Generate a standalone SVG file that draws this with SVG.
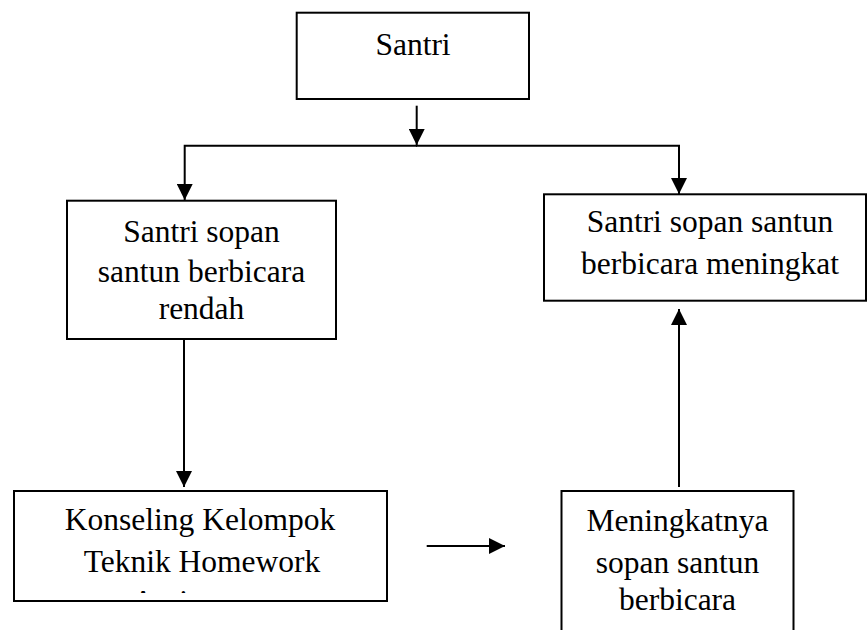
<svg xmlns="http://www.w3.org/2000/svg" width="868" height="630" viewBox="0 0 868 630">
<style>
.box{fill:#fff;stroke:#000;stroke-width:2}
.t{font-family:"Liberation Serif","Times New Roman",serif;font-size:31.5px;fill:#000;text-anchor:middle}
.c{fill:none;stroke:#000;stroke-width:2}
</style>
<defs>
<marker id="ah" markerUnits="userSpaceOnUse" markerWidth="16" markerHeight="16" refX="15" refY="7.5" orient="auto" viewBox="0 0 15 15">
<path d="M0,0 L15,7.5 L0,15 z" fill="#000"/>
</marker>
<clipPath id="clipK"><rect x="15" y="492" width="371" height="101"/></clipPath>
</defs>
<rect width="868" height="630" fill="#fff"/>
<g id="connectors">
<path class="c" d="M416.7,105.7 V145" marker-end="url(#ah)"/>
<path class="c" d="M417,145.7 H184.7 V200" marker-end="url(#ah)"/>
<path class="c" d="M416,145.7 H679 V194" marker-end="url(#ah)"/>
<path class="c" d="M184,339 V487" marker-end="url(#ah)"/>
<path class="c" d="M426.7,546 H505" marker-end="url(#ah)"/>
<path class="c" d="M679,487 V309" marker-end="url(#ah)"/>
</g>
<g id="santri">
<rect class="box" x="296.7" y="12.7" width="232.3" height="86.3"/>
<text class="t" x="413" y="55">Santri</text>
</g>
<g id="sopan-rendah">
<rect class="box" x="67" y="200.7" width="269" height="138.3"/>
<text class="t" x="201.5" y="241.7">Santri sopan</text>
<text class="t" x="201.5" y="281.5">santun berbicara</text>
<text class="t" x="201.5" y="319.3">rendah</text>
</g>
<g id="sopan-meningkat">
<rect class="box" x="544" y="194.3" width="322" height="106.4"/>
<text class="t" x="710" y="231.7">Santri sopan santun</text>
<text class="t" x="710" y="274">berbicara meningkat</text>
</g>
<g id="konseling">
<rect class="box" x="14" y="491" width="373" height="110"/>
<text class="t" x="200" y="530">Konseling Kelompok</text>
<text class="t" x="202" y="571.7">Teknik Homework</text>
<text class="t" x="132" y="612" style="text-anchor:start" clip-path="url(#clipK)">Assignment</text>
</g>
<g id="meningkatnya">
<rect class="box" x="561.5" y="491" width="232" height="150"/>
<text class="t" x="677.5" y="531">Meningkatnya</text>
<text class="t" x="677.5" y="572.5">sopan santun</text>
<text class="t" x="677.5" y="610">berbicara</text>
</g>
</svg>
